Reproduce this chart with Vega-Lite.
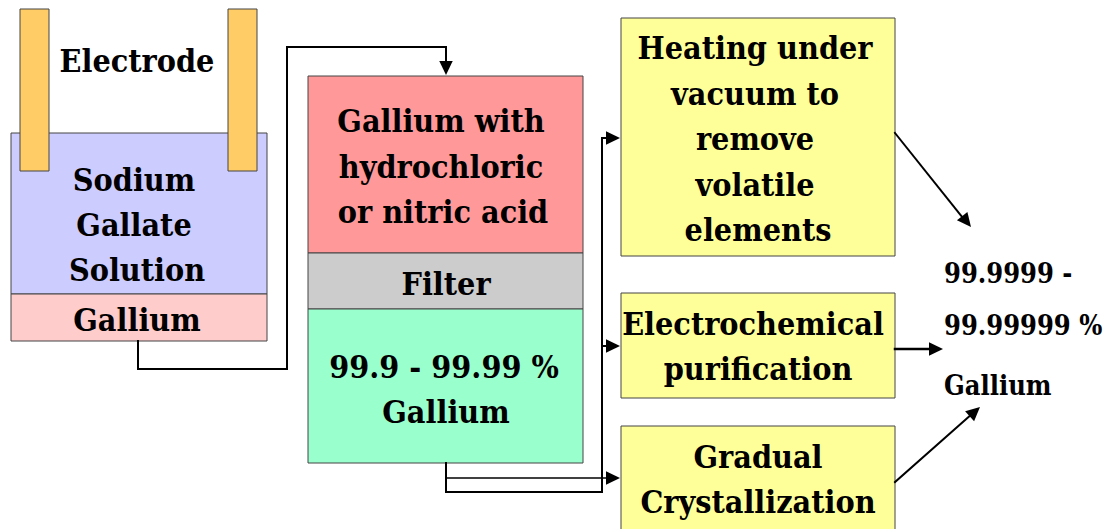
{
  "$schema": "https://vega.github.io/schema/vega-lite/v6.json",
  "width": 1103,
  "height": 529,
  "autosize": {"type": "none"},
  "padding": 0,
  "background": "white",
  "config": {"view": {"stroke": null}},
  "datasets": {
    "boxes": [
      {"name": "beaker", "x1": 11, "x2": 267, "y1": 133, "y2": 294, "fill": "#CCCCFF"},
      {"name": "gallium", "x1": 11, "x2": 267, "y1": 294, "y2": 341, "fill": "#FFCCCC"},
      {"name": "electrodeL", "x1": 20, "x2": 49, "y1": 9, "y2": 171, "fill": "#FFCC66"},
      {"name": "electrodeR", "x1": 228, "x2": 257, "y1": 9, "y2": 171, "fill": "#FFCC66"},
      {"name": "acid", "x1": 308, "x2": 583, "y1": 76, "y2": 253, "fill": "#FF9999"},
      {"name": "filter", "x1": 308, "x2": 583, "y1": 253, "y2": 309, "fill": "#CCCCCC"},
      {"name": "pure", "x1": 308, "x2": 583, "y1": 309, "y2": 463, "fill": "#99FFCC"},
      {"name": "heating", "x1": 621, "x2": 895, "y1": 18, "y2": 256, "fill": "#FFFF99"},
      {"name": "electro", "x1": 621, "x2": 895, "y1": 293, "y2": 398, "fill": "#FFFF99"},
      {"name": "gradual", "x1": 621, "x2": 895, "y1": 426, "y2": 533, "fill": "#FFFF99"}
    ],
    "lines": [
      {"x1": 138, "y1": 341, "x2": 138, "y2": 369, "w": 2},
      {"x1": 138, "y1": 369, "x2": 287, "y2": 369, "w": 2},
      {"x1": 287, "y1": 369, "x2": 287, "y2": 47, "w": 2},
      {"x1": 287, "y1": 47, "x2": 446, "y2": 47, "w": 2},
      {"x1": 446, "y1": 47, "x2": 446, "y2": 64, "w": 2},
      {"x1": 446, "y1": 463, "x2": 446, "y2": 492, "w": 2},
      {"x1": 446, "y1": 492, "x2": 602, "y2": 492, "w": 2},
      {"x1": 602, "y1": 492, "x2": 602, "y2": 138, "w": 2},
      {"x1": 602, "y1": 138, "x2": 610, "y2": 138, "w": 2},
      {"x1": 602, "y1": 346, "x2": 610, "y2": 346, "w": 2},
      {"x1": 446, "y1": 478, "x2": 610, "y2": 478, "w": 1.5},
      {"x1": 895, "y1": 133, "x2": 963, "y2": 218, "w": 2},
      {"x1": 895, "y1": 349, "x2": 932, "y2": 349, "w": 2.5},
      {"x1": 895, "y1": 482, "x2": 972, "y2": 414, "w": 2}
    ],
    "arrows": [
      {"x": 446, "y": 75, "angle": 180},
      {"x": 620, "y": 138, "angle": 90},
      {"x": 620, "y": 346, "angle": 90},
      {"x": 620, "y": 478, "angle": 90},
      {"x": 971, "y": 227, "angle": 141},
      {"x": 943, "y": 349, "angle": 90},
      {"x": 980, "y": 407, "angle": 48}
    ],
    "labels": [
      {"text": "Electrode", "x": 137, "y": 72, "size": 32},
      {"text": "Sodium", "x": 134, "y": 191, "size": 32},
      {"text": "Gallate", "x": 134, "y": 236, "size": 32},
      {"text": "Solution", "x": 137, "y": 281, "size": 32},
      {"text": "Gallium", "x": 137, "y": 331, "size": 32},
      {"text": "Gallium with", "x": 441, "y": 132, "size": 32},
      {"text": "hydrochloric", "x": 441, "y": 178, "size": 32},
      {"text": "or nitric acid", "x": 443, "y": 223, "size": 32},
      {"text": "Filter", "x": 446, "y": 295, "size": 32},
      {"text": "99.9 - 99.99 %", "x": 444, "y": 378, "size": 32},
      {"text": "Gallium", "x": 446, "y": 423, "size": 32},
      {"text": "Heating under", "x": 755, "y": 59, "size": 32},
      {"text": "vacuum to", "x": 755, "y": 105, "size": 32},
      {"text": "remove", "x": 755, "y": 150, "size": 32},
      {"text": "volatile", "x": 755, "y": 196, "size": 32},
      {"text": "elements", "x": 758, "y": 241, "size": 32},
      {"text": "Electrochemical", "x": 753, "y": 335, "size": 32},
      {"text": "purification", "x": 758, "y": 380, "size": 32},
      {"text": "Gradual", "x": 758, "y": 468, "size": 32},
      {"text": "Crystallization", "x": 758, "y": 513, "size": 32}
    ],
    "result": [
      {"text": "99.9999 -", "x": 944, "y": 283},
      {"text": "99.99999 %", "x": 944, "y": 335},
      {"text": "Gallium", "x": 944, "y": 395}
    ]
  },
  "layer": [
    {
      "data": {"name": "boxes"},
      "mark": {"type": "rect", "stroke": "#444444", "strokeWidth": 1},
      "encoding": {
        "x": {"field": "x1", "type": "quantitative", "scale": {"domain": [0, 1103], "nice": false, "zero": false}, "axis": null},
        "x2": {"field": "x2"},
        "y": {"field": "y1", "type": "quantitative", "scale": {"domain": [0, 529], "reverse": true, "nice": false, "zero": false}, "axis": null},
        "y2": {"field": "y2"},
        "fill": {"field": "fill", "type": "nominal", "scale": null, "legend": null}
      }
    },
    {
      "data": {"name": "lines"},
      "mark": {"type": "rule", "color": "black", "strokeCap": "square"},
      "encoding": {
        "x": {"field": "x1", "type": "quantitative", "scale": {"domain": [0, 1103], "nice": false, "zero": false}, "axis": null},
        "x2": {"field": "x2"},
        "y": {"field": "y1", "type": "quantitative", "scale": {"domain": [0, 529], "reverse": true, "nice": false, "zero": false}, "axis": null},
        "y2": {"field": "y2"},
        "strokeWidth": {"field": "w", "type": "quantitative", "scale": null}
      }
    },
    {
      "data": {"name": "arrows"},
      "mark": {"type": "point", "shape": "M0,0 L-0.48,1 L0.48,1 Z", "filled": true, "color": "black", "opacity": 1, "size": 784, "strokeWidth": 0},
      "encoding": {
        "x": {"field": "x", "type": "quantitative", "scale": {"domain": [0, 1103], "nice": false, "zero": false}, "axis": null},
        "y": {"field": "y", "type": "quantitative", "scale": {"domain": [0, 529], "reverse": true, "nice": false, "zero": false}, "axis": null},
        "angle": {"field": "angle", "type": "quantitative", "scale": null}
      }
    },
    {
      "data": {"name": "labels"},
      "mark": {"type": "text", "font": "DejaVu Serif Condensed, DejaVu Serif", "fontWeight": "bold", "align": "center", "baseline": "alphabetic", "color": "black"},
      "encoding": {
        "x": {"field": "x", "type": "quantitative", "scale": {"domain": [0, 1103], "nice": false, "zero": false}, "axis": null},
        "y": {"field": "y", "type": "quantitative", "scale": {"domain": [0, 529], "reverse": true, "nice": false, "zero": false}, "axis": null},
        "text": {"field": "text", "type": "nominal"},
        "size": {"field": "size", "type": "quantitative", "scale": null}
      }
    },
    {
      "data": {"name": "result"},
      "mark": {"type": "text", "font": "DejaVu Serif Condensed, DejaVu Serif", "fontWeight": "bold", "align": "left", "baseline": "alphabetic", "color": "black", "fontSize": 27},
      "encoding": {
        "x": {"field": "x", "type": "quantitative", "scale": {"domain": [0, 1103], "nice": false, "zero": false}, "axis": null},
        "y": {"field": "y", "type": "quantitative", "scale": {"domain": [0, 529], "reverse": true, "nice": false, "zero": false}, "axis": null},
        "text": {"field": "text", "type": "nominal"}
      }
    }
  ]
}
